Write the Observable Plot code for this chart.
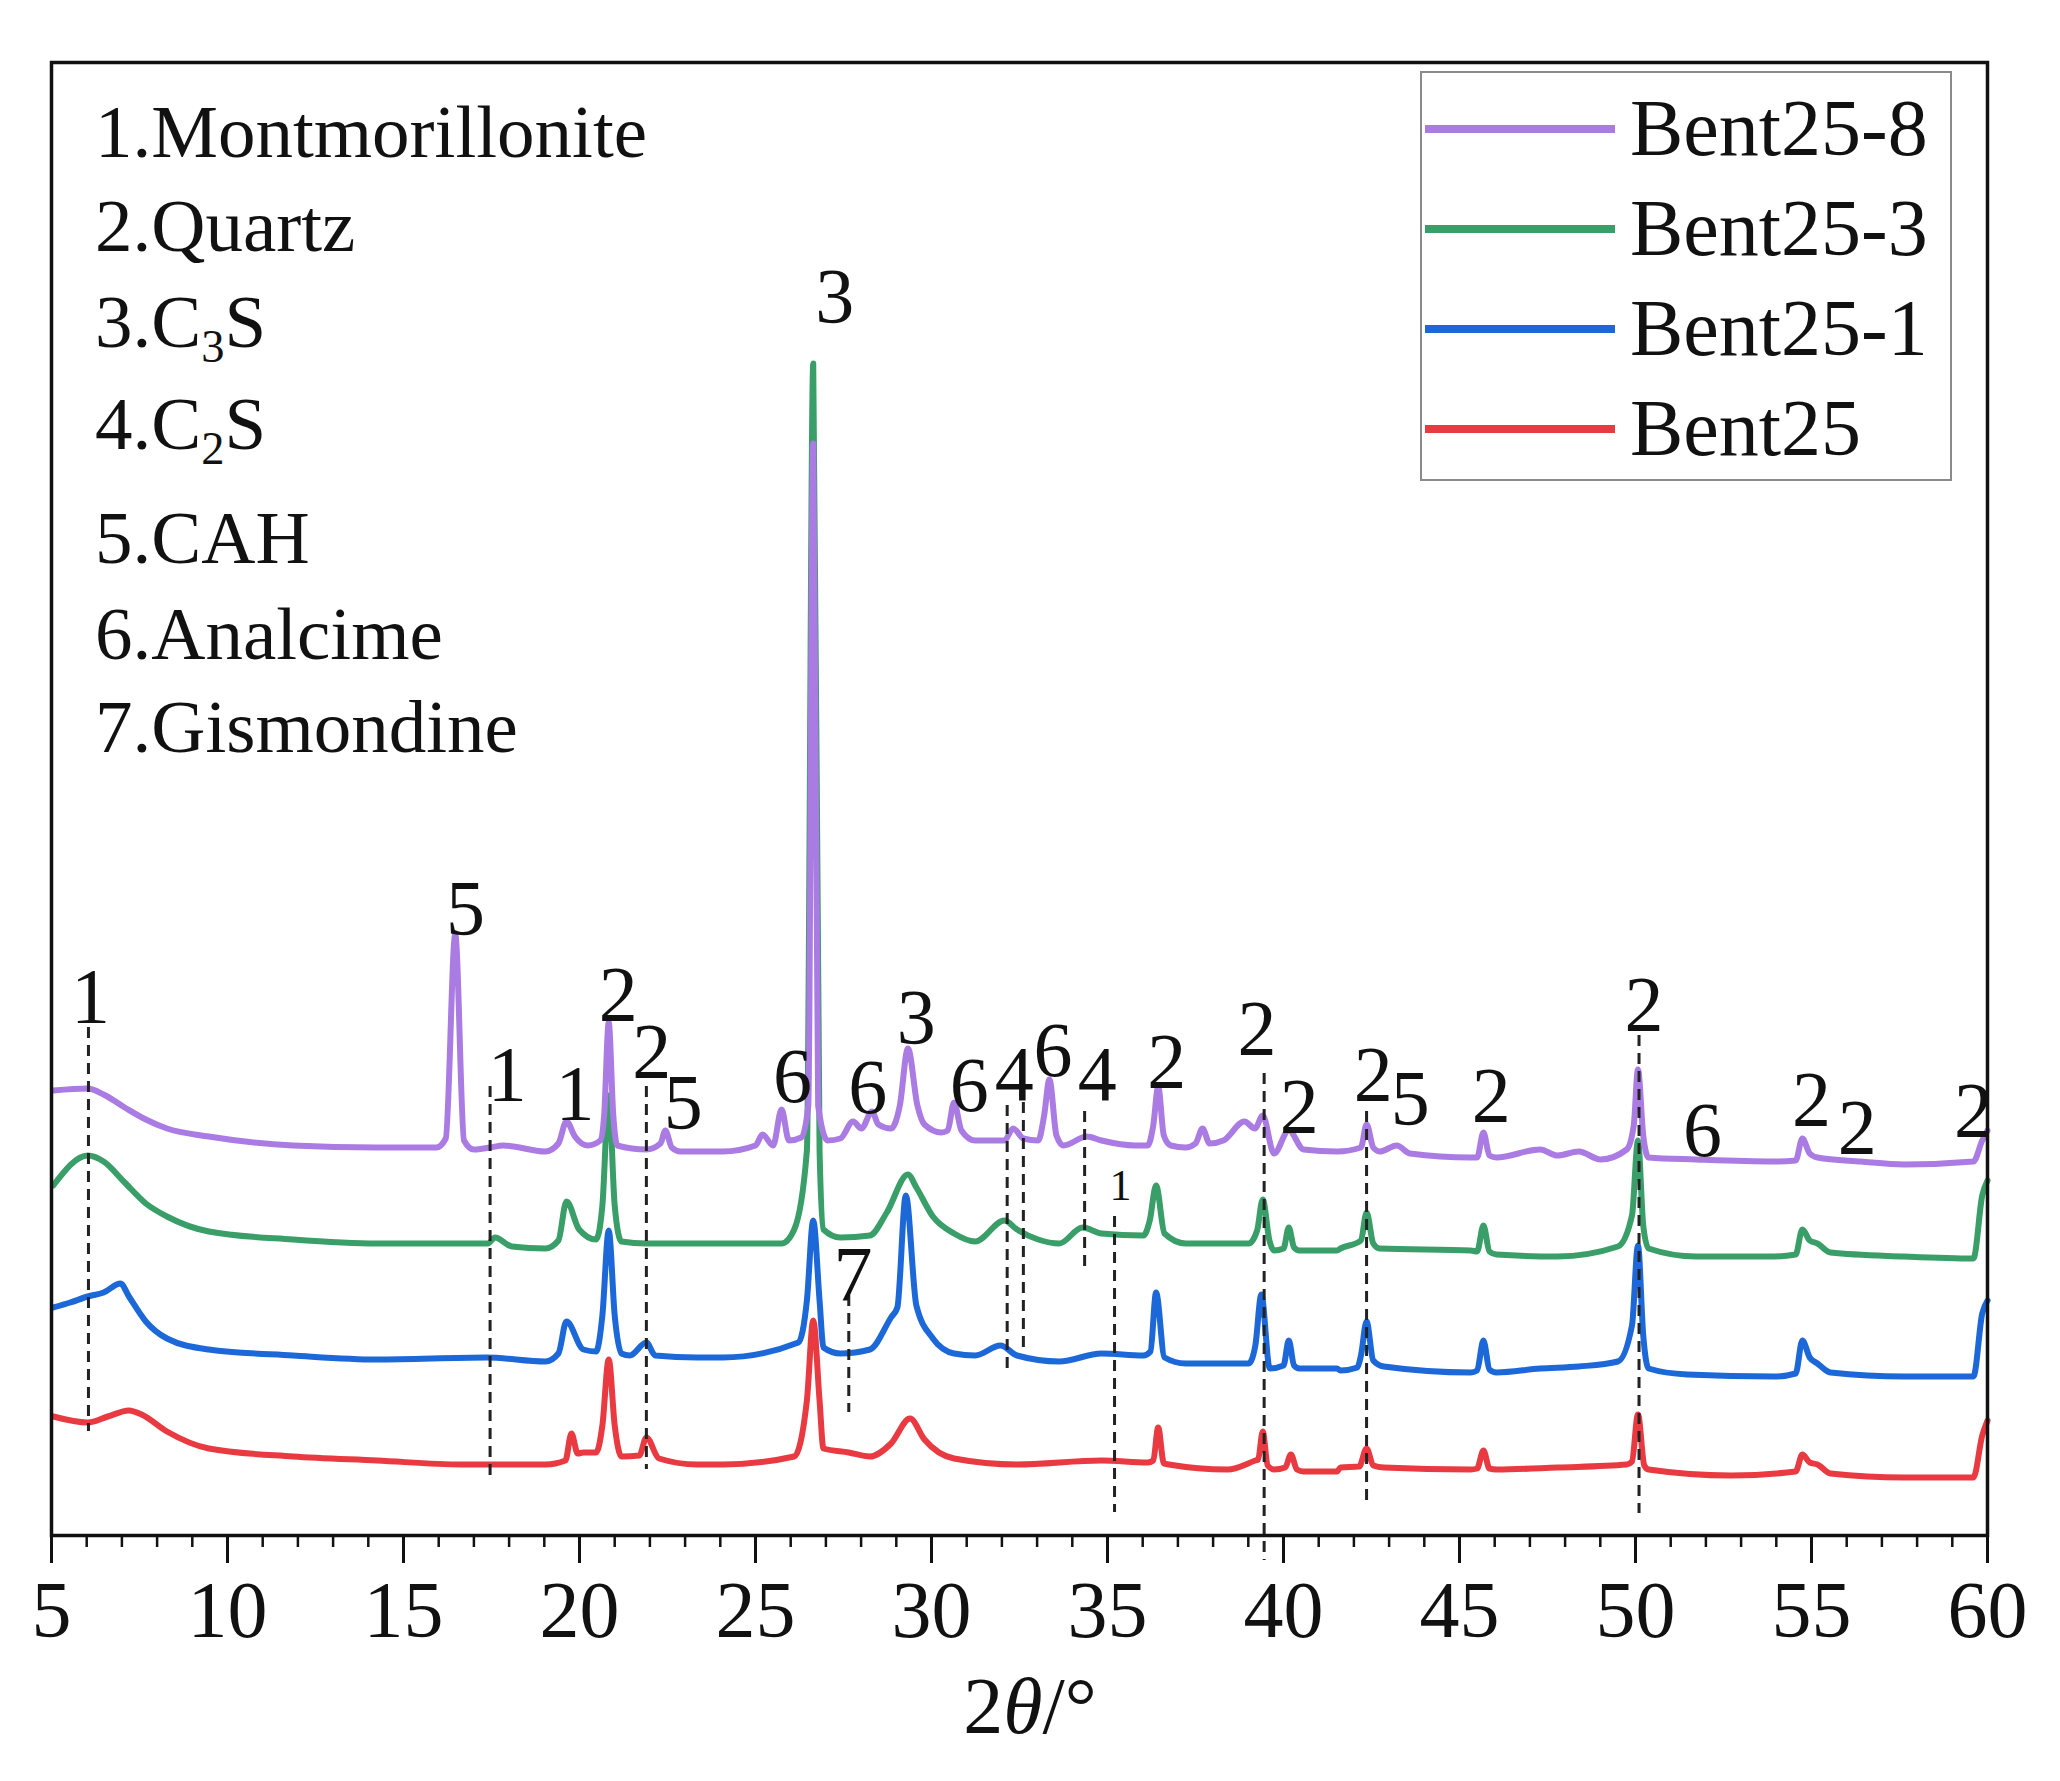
<!DOCTYPE html>
<html>
<head>
<meta charset="utf-8">
<script src="https://cdn.jsdelivr.net/npm/d3@7"></script>
<script src="https://cdn.jsdelivr.net/npm/@observablehq/plot@0.6"></script>
<style>
  html, body { margin: 0; padding: 0; background: #fff; }
  #fig { position: relative; width: 2060px; height: 1781px; font-family: "Liberation Serif", "Times New Roman", serif; color: #111; }
  #fig svg { position: absolute; left: 0; top: 0; }
  .ann { position: absolute; line-height: 1; white-space: nowrap; }
  .fase { font-size: 75px; left: 95px; }
  .sub { font-size: 0.62em; position: relative; top: 0.32em; }
  #lenda { position: absolute; left: 1420px; top: 71px; width: 532px; height: 410px; border: 2px solid #8a8a8a; box-sizing: border-box; background: #fff; }
  .lenda-item { position: absolute; left: 0; height: 0; }
  .lenda-item i { position: absolute; left: 3px; width: 190px; height: 8px; top: -4px; }
  .lenda-item span { position: absolute; left: 208px; top: -41px; font-size: 80px; line-height: 1; white-space: nowrap; }
  #eixo { position: absolute; left: 1030px; top: 1666px; transform: translateX(-50%); font-size: 80px; line-height: 1; }
</style>
</head>
<body>
<div id="fig"></div>
<script>
// XRD patterns, intensity in arbitrary units (stacked offsets as in the figure)
const series = ["Bent25", "Bent25-1", "Bent25-3", "Bent25-8"];
const cores = ["#e83a40", "#1c68d8", "#3a9e68", "#ab7be4"];

const bent25 = [[5.05,119],[6.03,113],[6.6,119],[7.2,125],[7.56,121],[8.28,104],[9.47,87],[11.86,79],[14.25,75],[16.64,71],[19.03,71],[19.6,75],[19.77,102],[19.95,82],[20.11,83],[20.47,83],[20.65,110],[20.83,176],[21.0,110],[21.19,79],[21.7,80],[21.9,98],[22.26,77],[23.34,71],[24.07,71],[26.1,79],[26.46,135],[26.64,215],[26.82,135],[26.93,87],[27.65,83],[28.25,79],[28.85,92],[29.39,117],[29.8,96],[30.64,77],[32.43,71],[34.83,75],[36.14,73],[36.3,75],[36.44,108],[36.6,72],[36.74,71],[38.41,66],[39.2,75],[39.28,76],[39.41,104],[39.55,70],[39.73,66],[40.05,68],[40.21,81],[40.38,66],[40.57,64],[41.52,64],[41.62,68],[42.15,69],[42.36,87],[42.55,70],[42.85,68],[45.32,66],[45.5,67],[45.68,85],[45.85,67],[46.05,66],[47.78,68],[49.75,71],[49.9,74],[50.07,121],[50.25,70],[50.37,66],[52.71,60],[54.55,64],[54.74,81],[54.95,73],[55.17,71],[55.54,62],[57.63,58],[59.6,58],[59.85,100],[60,115]];

const bent25_1 = [[5.05,228],[5.53,233],[6.03,239],[6.48,243],[6.96,252],[7.2,239],[7.68,214],[8.28,197],[9.47,186],[11.86,180],[14.25,176],[17.36,178],[19.03,174],[19.4,182],[19.63,214],[20.11,186],[20.47,184],[20.65,220],[20.83,305],[21.0,220],[21.19,182],[21.43,180],[21.9,193],[22.15,180],[23.34,178],[24.07,178],[26.22,193],[26.46,235],[26.64,315],[26.82,235],[26.93,188],[27.41,182],[28.25,186],[28.85,218],[29.03,228],[29.27,340],[29.57,230],[30.04,197],[30.64,182],[31.24,180],[31.96,190],[32.43,180],[33.63,174],[34.83,182],[36.02,180],[36.22,184],[36.38,243],[36.62,178],[37.22,172],[39.01,172],[39.2,190],[39.37,241],[39.61,167],[40.0,170],[40.15,195],[40.3,170],[40.45,167],[41.52,167],[41.62,165],[42.1,168],[42.2,180],[42.36,214],[42.55,175],[42.85,169],[45.32,163],[45.5,165],[45.68,195],[45.85,166],[46.05,163],[47.29,167],[48.39,169],[49.5,174],[49.9,210],[50.07,290],[50.22,200],[50.37,167],[51.47,161],[53.94,159],[54.55,162],[54.74,195],[54.95,178],[55.17,172],[55.54,163],[57.63,159],[59.6,159],[59.85,222],[60,235]];

const bent25_3 = [[5.05,350],[6.03,380],[6.48,374],[7.08,353],[7.68,332],[8.28,319],[9.47,304],[11.86,296],[14.25,292],[16.64,292],[17.4,292],[17.6,298],[18.08,289],[19.03,287],[19.4,295],[19.63,334],[19.99,306],[20.47,296],[20.65,330],[20.83,440],[21.0,330],[21.19,294],[21.9,292],[23.34,292],[24.07,292],[25.74,292],[26.1,306],[26.46,385],[26.64,1172],[26.82,385],[26.93,306],[27.41,298],[28.25,300],[28.73,323],[29.33,361],[29.57,348],[30.04,319],[30.64,302],[31.24,294],[32.07,315],[32.43,306],[33.03,296],[33.63,292],[34.29,308],[34.83,302],[36.02,300],[36.2,315],[36.38,350],[36.62,302],[37.22,292],[39.01,292],[39.25,305],[39.41,336],[39.6,295],[39.73,285],[40.0,287],[40.15,308],[40.3,288],[40.45,285],[41.52,285],[41.62,287],[42.2,295],[42.36,323],[42.55,292],[42.73,287],[45.32,285],[45.5,284],[45.68,310],[45.85,284],[46.05,281],[47.78,279],[49.5,289],[49.9,320],[50.07,395],[50.22,310],[50.37,287],[51.72,279],[53.94,279],[54.55,281],[54.74,306],[54.95,295],[55.17,292],[55.54,283],[57.63,279],[59.6,277],[59.85,340],[60,355]];

const bent25_8 = [[5.05,445],[6.03,447],[6.48,441],[7.08,428],[7.68,416],[8.28,407],[9.47,399],[11.86,390],[14.25,388],[15.93,388],[16.2,397],[16.47,601],[16.72,395],[17.0,386],[17.46,388],[17.84,390],[19.03,384],[19.4,392],[19.63,414],[19.87,399],[20.23,390],[20.59,395],[20.7,420],[20.83,513],[20.96,420],[21.07,390],[21.9,386],[22.3,392],[22.44,405],[22.62,388],[22.87,384],[24.07,384],[25.0,390],[25.2,401],[25.5,390],[25.74,426],[25.95,395],[26.3,398],[26.5,430],[26.64,1092],[26.78,430],[27.05,395],[27.41,397],[27.77,414],[28.01,407],[28.31,424],[28.49,411],[28.85,407],[29.1,430],[29.33,487],[29.6,430],[29.8,411],[30.28,403],[30.46,405],[30.64,433],[30.85,405],[31.24,395],[32.07,395],[32.32,407],[32.61,397],[33.03,395],[33.2,420],[33.35,456],[33.55,400],[33.75,390],[34.41,399],[34.83,395],[35.78,390],[36.14,390],[36.3,410],[36.44,449],[36.6,400],[36.8,390],[37.22,388],[37.5,392],[37.7,407],[37.9,392],[38.29,395],[38.89,414],[39.19,407],[39.41,420],[39.73,382],[40.15,405],[40.57,386],[41.52,384],[42.2,388],[42.36,411],[42.55,388],[42.73,384],[43.22,390],[43.59,382],[45.32,378],[45.5,378],[45.68,403],[45.85,380],[46.05,378],[47.29,386],[47.78,380],[48.39,384],[49.01,376],[49.75,386],[49.95,410],[50.07,466],[50.22,400],[50.37,378],[51.72,376],[53.94,374],[54.55,375],[54.74,397],[54.95,382],[55.17,378],[56.4,374],[57.63,371],[59.6,374],[59.85,395],[60,405]];

// dashed phase markers
const marcaT = [6.05, 17.46, 21.9, 27.65, 32.15, 32.61, 34.35, 35.2, 39.45, 42.36, 50.1];
const marcaTopo = [508, 449, 449, 240, 430, 433, 424, 319, 462, 424, 500];
const marcaBase = [104, 54, 66, 123, 167, 188, 264, 23, -25, 35, 22];

// peak numbers
const picoTexto = ["1","5","1","1","2","2","5","6","3","6","3","6","4","6","4","2","2","2","7","2","5","2","2","6","2","2","2"];
const picoT = [6.11,16.76,17.95,19.87,21.1,22.05,22.95,26.05,27.25,28.19,29.57,31.07,32.35,33.45,34.71,36.68,39.25,40.45,27.77,42.55,43.6,45.9,50.24,51.9,55.0,56.3,59.6];
const picoI = [538,626,460,441,540,483,432,458,1238,447,517,449,460,484,460,473,506,428,260,460,436,439,530,404,435,407,424];
const picoMiudo = [{t: 35.37, i: 350, s: "1"}];

const fases = ["1.Montmorillonite", "2.Quartz", "3.C|3|S", "4.C|2|S", "5.CAH", "6.Analcime", "7.Gismondine"];
const fasesY = [132, 226, 322, 424, 538, 634, 727];

const xTicks = d3.range(5, 61, 5);
const xMinor = d3.range(5, 61, 1);

const trazos = [bent25, bent25_1, bent25_3, bent25_8];
const marcas = marcaT.map((t, k) => ({t, y1: marcaTopo[k], y2: marcaBase[k]}));
const picos = picoT.map((t, k) => ({t, i: picoI[k], s: picoTexto[k]}));

const fonte = '"Liberation Serif", "Times New Roman", serif';

const plot = Plot.plot({
  width: 2060,
  height: 1781,
  marginLeft: 51,
  marginRight: 73,
  marginTop: 62,
  marginBottom: 246,
  style: { fontFamily: fonte, fontSize: "80px", background: "transparent", color: "#111", overflow: "visible" },
  x: { domain: [5, 60] },
  y: { domain: [0, 1473], axis: null },
  marks: [
    ...trazos.map((d, k) => Plot.line(d, { x: d => d[0], y: d => d[1], stroke: cores[k], strokeWidth: 6, curve: "monotone-x", strokeLinejoin: "round" })),
    Plot.ruleX(marcas, { x: "t", y1: "y1", y2: "y2", stroke: "#222", strokeWidth: 3, strokeDasharray: "11,7" }),
    Plot.text(picos, { x: "t", y: "i", text: "s", fontSize: 78, fill: "#111" }),
    Plot.text(picoMiudo, { x: "t", y: "i", text: "s", fontSize: 44, fill: "#111" }),
    Plot.axisX({ ticks: xMinor, tickSize: 12, tickFormat: () => "", label: null, strokeWidth: 2.5 }),
    Plot.axisX({ ticks: xTicks, tickSize: 28, tickPadding: 17, fontSize: 80, label: null, strokeWidth: 3 }),
    Plot.frame({ stroke: "#111", strokeWidth: 3.5 })
  ]
});

const fig = document.getElementById("fig");
fig.appendChild(plot);

fases.forEach((f, k) => {
  const el = document.createElement("div");
  el.className = "ann fase";
  el.style.top = (fasesY[k] - 38) + "px";
  const p = f.split("|");
  el.innerHTML = p.length === 3 ? `${p[0]}<span class="sub">${p[1]}</span>${p[2]}` : f;
  fig.appendChild(el);
});

const lenda = document.createElement("div");
lenda.id = "lenda";
const lendaOrde = [3, 2, 1, 0];
lendaOrde.forEach((s, k) => {
  const it = document.createElement("div");
  it.className = "lenda-item";
  it.style.top = (56 + k * 100) + "px";
  it.innerHTML = `<i style="background:${cores[s]}"></i><span>${series[s]}</span>`;
  lenda.appendChild(it);
});
fig.appendChild(lenda);

const eixo = document.createElement("div");
eixo.id = "eixo";
eixo.innerHTML = "2<i>θ</i>/°";
fig.appendChild(eixo);
</script>
</body>
</html>
